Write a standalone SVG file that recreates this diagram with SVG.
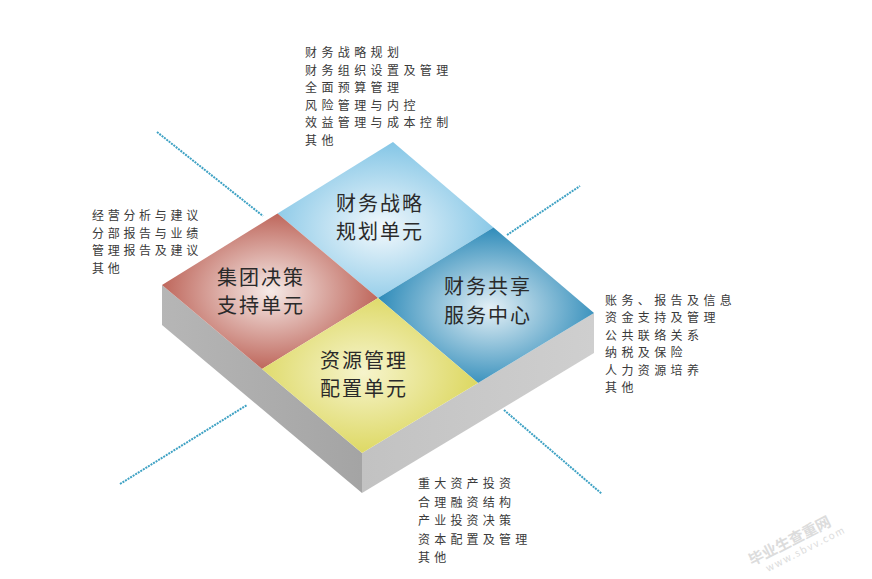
<svg xmlns="http://www.w3.org/2000/svg" width="872" height="579" viewBox="0 0 872 579">
<defs>
<style>
.lbl{font-family:"Noto Sans CJK SC","Noto Sans",sans-serif;font-size:20px;fill:#2a2a2a;text-anchor:middle;letter-spacing:2px}
.lst{font-family:"Noto Sans CJK SC","Noto Sans",sans-serif;font-size:12px;fill:#3a3a3a;letter-spacing:4.4px}
.con{stroke:#3fa2c4;stroke-width:2;stroke-dasharray:2 1;fill:none}
.wm{font-family:"Noto Sans CJK SC","Noto Sans",sans-serif;fill:#dcdcdc}
</style>
<radialGradient id="gTop" cx="0.48" cy="0.55" r="0.55">
<stop offset="0" stop-color="#f2f8fc"/><stop offset="1" stop-color="#84c6e6"/></radialGradient>
<radialGradient id="gLeft" cx="0.5" cy="0.5" r="0.55">
<stop offset="0" stop-color="#f6ebe8"/><stop offset="1" stop-color="#b95a4e"/></radialGradient>
<radialGradient id="gRight" cx="0.52" cy="0.52" r="0.55">
<stop offset="0" stop-color="#e4f0f6"/><stop offset="1" stop-color="#2586b6"/></radialGradient>
<radialGradient id="gBot" cx="0.47" cy="0.48" r="0.55">
<stop offset="0" stop-color="#f6f4cc"/><stop offset="1" stop-color="#dcd75e"/></radialGradient>
<linearGradient id="gSideL" x1="0" y1="0" x2="1" y2="0">
<stop offset="0" stop-color="#b6b6b6"/><stop offset="1" stop-color="#a4a4a4"/></linearGradient>
<linearGradient id="gSideR" x1="0" y1="0" x2="1" y2="0">
<stop offset="0" stop-color="#c2c2c2"/><stop offset="1" stop-color="#cfcfcf"/></linearGradient>
</defs>
<rect width="872" height="579" fill="#ffffff"/>

<g id="connectors">
<line class="con" x1="157" y1="132" x2="263" y2="216"/>
<line class="con" x1="507" y1="235" x2="580" y2="186"/>
<line class="con" x1="120" y1="484" x2="247" y2="405"/>
<line class="con" x1="504" y1="410" x2="602" y2="494"/>
</g>

<g id="slab">
<polygon points="162,285 362,453 362,493 162,325" fill="url(#gSideL)"/>
<polygon points="362,453 594,313 594,353 362,493" fill="url(#gSideR)"/>
</g>

<g id="node-top">
<polygon points="393,142 493.5,227.5 378,298 277.5,213.5" fill="url(#gTop)"/>
<text class="lbl" x="380" y="211">财务战略</text>
<text class="lbl" x="380" y="239">规划单元</text>
</g>
<g id="node-left">
<polygon points="162,285 277.5,213.5 378,298 262,369" fill="url(#gLeft)"/>
<text class="lbl" x="261" y="285">集团决策</text>
<text class="lbl" x="261" y="313">支持单元</text>
</g>
<g id="node-right">
<polygon points="493.5,227.5 594,313 478,383 378,298" fill="url(#gRight)"/>
<text class="lbl" x="488" y="294">财务共享</text>
<text class="lbl" x="488" y="323">服务中心</text>
</g>
<g id="node-bottom">
<polygon points="378,298 478,383 362,453 262,369" fill="url(#gBot)"/>
<text class="lbl" x="364" y="368">资源管理</text>
<text class="lbl" x="364" y="396">配置单元</text>
</g>

<g id="list-top">
<text class="lst" x="305" y="57">财务战略规划</text>
<text class="lst" x="305" y="74.5">财务组织设置及管理</text>
<text class="lst" x="305" y="92">全面预算管理</text>
<text class="lst" x="305" y="109.5">风险管理与内控</text>
<text class="lst" x="305" y="127">效益管理与成本控制</text>
<text class="lst" x="305" y="144.5">其他</text>
</g>
<g id="list-left">
<text class="lst" x="92" y="220" style="letter-spacing:3.7px">经营分析与建议</text>
<text class="lst" x="92" y="237.5" style="letter-spacing:3.7px">分部报告与业绩</text>
<text class="lst" x="92" y="255" style="letter-spacing:3.7px">管理报告及建议</text>
<text class="lst" x="92" y="272.5" style="letter-spacing:3.7px">其他</text>
</g>
<g id="list-right">
<text class="lst" x="605" y="304.5">账务、报告及信息</text>
<text class="lst" x="605" y="322">资金支持及管理</text>
<text class="lst" x="605" y="339.5">公共联络关系</text>
<text class="lst" x="605" y="357">纳税及保险</text>
<text class="lst" x="605" y="374.5">人力资源培养</text>
<text class="lst" x="605" y="392">其他</text>
</g>
<g id="list-bottom">
<text class="lst" x="418" y="488" style="letter-spacing:4.2px">重大资产投资</text>
<text class="lst" x="418" y="506.5" style="letter-spacing:4.2px">合理融资结构</text>
<text class="lst" x="418" y="525" style="letter-spacing:4.2px">产业投资决策</text>
<text class="lst" x="418" y="543.5" style="letter-spacing:4.2px">资本配置及管理</text>
<text class="lst" x="418" y="562" style="letter-spacing:4.2px">其他</text>
</g>

<g id="watermark">
<text class="wm" x="752" y="566" font-size="15" font-weight="bold" transform="rotate(-27 752 566)">毕业生查重网</text>
<text class="wm" x="768" y="572" font-size="10" letter-spacing="1.5" transform="rotate(-27 768 572)">www.sbvv.com</text>
</g>
</svg>
